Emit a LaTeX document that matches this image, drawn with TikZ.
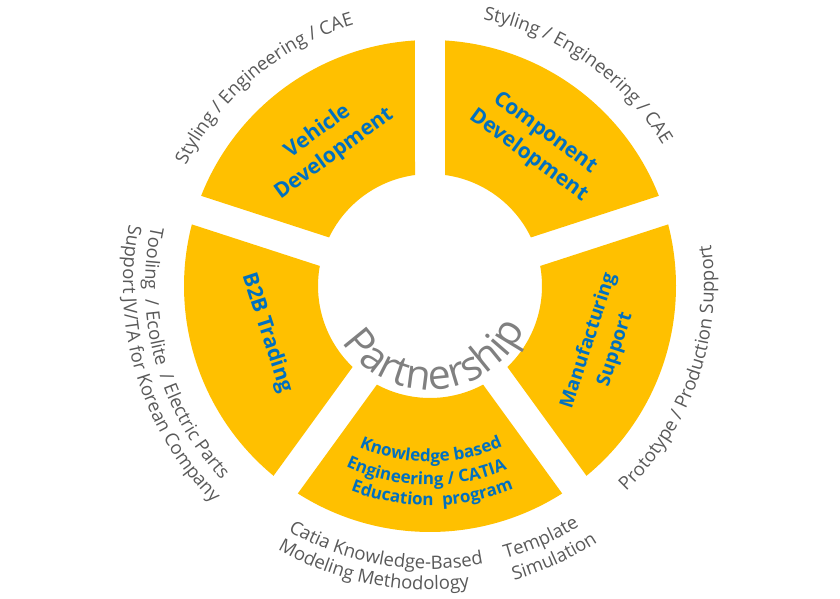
\documentclass[tikz,border=0pt]{standalone}
\usepackage{fontspec}
\setmainfont{Open Sans}
\usetikzlibrary{decorations.text}
\definecolor{ringyellow}{HTML}{FFC000}
\definecolor{labelblue}{HTML}{0070C0}
\definecolor{outergray}{HTML}{595959}
\definecolor{partgray}{HTML}{808080}
\tikzset{
  seglabel/.style={text=labelblue, font=\bfseries\fontsize{21}{28}\selectfont, align=center, inner sep=0pt},
  outertext/.style={decorate, decoration={text along path, text align=center, text color=outergray,
      text={|\fontsize{18.5}{22}\selectfont|#1}}},
  kbetext/.style={decorate, decoration={text along path, text align=center, text color=labelblue,
      text={|\bfseries\fontsize{17}{20}\selectfont|#1}}},
  parttext/.style={decorate, decoration={text along path, text align=center, text color=partgray,
      text={|\fontsize{41}{44}\selectfont|#1}}}
}
\begin{document}
\begin{tikzpicture}[x=1pt,y=1pt]
\useasboundingbox (0,0) rectangle (840,599);
\begin{scope}[shift={(430,313)}]
  % ring segments
  \foreach \a in {126,54,-18,-90,198} {
    \fill[ringyellow] ({\a+36-3.5}:246) arc[start angle={\a+36-3.5}, end angle={\a-36+3.5}, radius=246]
      -- ({\a-36+7.7}:112) arc[start angle={\a-36+7.7}, end angle={\a+36-7.7}, radius=112] -- cycle;
  }
  % segment labels
  \node[seglabel, rotate=36] (veh) at (126:177) {Vehicle\\Development};
  \node[seglabel, rotate=-36] (comp) at (53:177) {Component\\Development};
  \node[seglabel, rotate=72, font=\bfseries\fontsize{19}{28}\selectfont] (manu) at (-19:182) {Manufacturing\\Support};
  \node[seglabel, rotate=-72] (b2b) at (196:170) {B2B Trading};
  % knowledge label (curved)
  \path[kbetext={Knowledge based}] (225.3:176) arc[start angle=225.3, end angle=315.3, radius=176];
  \path[kbetext={Engineering{\ }/{\ }CATIA}] (223.9:199) arc[start angle=223.9, end angle=313.9, radius=199];
  \path[kbetext={Education{\ }{\ }program}] (225.6:219.5) arc[start angle=225.6, end angle=315.6, radius=219.5];
  % partnership
  \path[parttext={Partnership}] (194:104) arc[start angle=194, end angle=354, radius=104];
  % outer texts (top: clockwise)
  \path[outertext={Styling / Engineering / CAE}] (175:272) arc[start angle=175, end angle=85, radius=272];
  \path[outertext={Styling / Engineering / CAE}] (100:272) arc[start angle=100, end angle=10, radius=272];
  % left
  \path[outertext={Tooling{\ }{\ }/ Ecolite{\ }{\ }/ Electric Parts}] (145.5:285) arc[start angle=145.5, end angle=245.5, radius=285];
  \path[outertext={Support JV/TA for Korean Company}] (146.7:307) arc[start angle=146.7, end angle=246.7, radius=307];
  % right
  \path[outertext={Prototype / Production Support}] (-69:284) arc[start angle=-69, end angle=31, radius=284];
  % bottom
  \path[outertext={Catia Knowledge-Based}] (215.4:283) arc[start angle=215.4, end angle=305.4, radius=283];
  \path[outertext={Modeling Methodology}] (213.7:304) arc[start angle=213.7, end angle=303.7, radius=304];
  \path[outertext={Template}] (263.7:283) arc[start angle=263.7, end angle=323.7, radius=283];
  \path[outertext={Simulation}] (264.6:306) arc[start angle=264.6, end angle=324.6, radius=306];
\end{scope}
\end{tikzpicture}
\end{document}
